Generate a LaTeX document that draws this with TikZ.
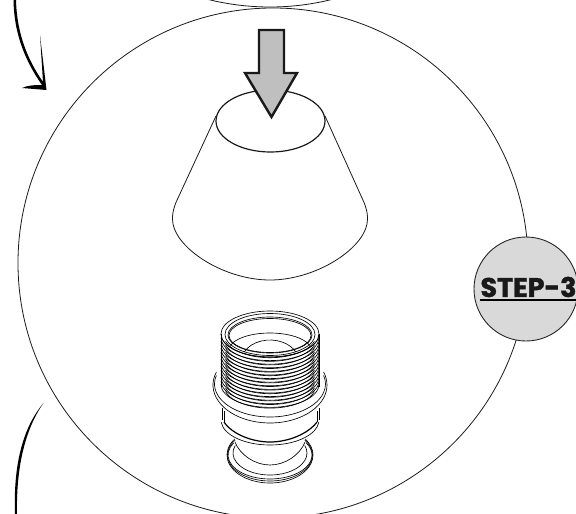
\documentclass[tikz,border=0pt]{standalone}
\usepackage{fontspec}
\setmainfont{Poppins}
\newfontfamily\stepfont[FakeBold=1.4]{Poppins Bold}
\newcommand{\ringarc}[5]{\draw[ring] ([shift={(270,#1)}]#4:#2 and #3) arc[start angle=#4,end angle=#5,x radius=#2,y radius=#3];}
\tikzset{
  outline/.style={draw=black!90,line width=0.8pt},
  ring/.style={draw=black,line width=0.65pt},
  heavy/.style={draw=black,line width=1.2pt},
  pushdown/.style={draw=black!90,line width=2.4pt,fill=black!25,miter limit=8},
  stepdisc/.style={circle,draw=black!85,line width=0.9pt,fill=black!15,minimum size=104pt,inner sep=0pt},
  steptext/.style={font=\stepfont\fontsize{27}{27}\selectfont,text=black!90,inner sep=0pt},
}
\begin{document}
\begin{tikzpicture}[x=1pt,y=-1pt]
    \useasboundingbox (0,0) rectangle (576,514);
    \clip (0,0) rectangle (576,514);
    %% Circles
    \draw[outline] (270,-248) circle (255);
    \draw[outline] (273,263) circle (255);
    %% Curved arrows
    \fill[black] (16,0) .. controls (17,35) and (28,60) .. (43,82)
        -- (40,35) -- (46.5,90) -- (22,88) .. controls (28,85) and (36,85) .. (42,85)
        .. controls (26,62) and (14,35) .. (13.5,0) -- cycle;
    \fill[black] (43.5,403) .. controls (25,425) and (13,460) .. (15,514)
        -- (17,514) .. controls (16,465) and (26,428) .. (43.5,403) -- cycle;
    %% Cone
    \draw[outline] (216,116) -- (178,198) .. controls (172,210) and (172,218) .. (173,224)
        .. controls (178,250) and (225,280) .. (270,280)
        .. controls (315,280) and (362,250) .. (367,224)
        .. controls (368,218) and (368,210) .. (362,198) -- (325,116);
    \draw[heavy,draw=black!90] (270.5,121) ellipse (54.5 and 31);
    %% Push arrow
    \draw[pushdown] (259,30) -- (284,30) -- (284,73) -- (297,73) -- (271.5,117)
        -- (245,73) -- (259,73) -- cycle;
    %% Fitting top
    \draw[ring] (270,334) ellipse (49 and 23);
    \draw[ring] (270,334.5) ellipse (45 and 21);
    \draw[ring] (270,335) ellipse (42 and 18);
    \ringarc{350}{41}{17}{195}{345}
    \ringarc{362}{29}{22}{207}{333}
    \draw[ring] (270,335.5) ellipse (41 and 17);
    %% Thread
    \foreach \dy in {0,3.6,...,53} {
        \ringarc{334+\dy}{49}{23}{180}{0}
        \ringarc{334+\dy+1.5}{46}{22.2}{165}{15}
    }
    \draw[ring] (221,334) -- (221,387);
    \draw[ring] (319,334) -- (319,387);
    %% Flange
    \ringarc{385}{57}{38}{200}{-20}
    \ringarc{384}{55.5}{33}{195}{-15}
    \draw[ring] (222,408) -- (222,420);
    \draw[ring] (224,411) -- (224,422);
    \draw[ring] (319,408) -- (319,420);
    \draw[ring] (317,411) -- (317,422);
    %% Neck
    \ringarc{420}{49}{25}{175}{5}
    \draw[heavy] (224,422) .. controls (232,434) and (252,442) .. (270,442)
        .. controls (288,442) and (308,434) .. (317,422);
    %% Bowl and base
    \draw[ring] (235,442) .. controls (240,455) and (255,465) .. (270,465)
        .. controls (285,465) and (300,455) .. (305,442);
    \ringarc{455}{43}{28}{215}{-35}
    \ringarc{455}{42.5}{26}{215}{-35}
    \ringarc{455}{42}{24}{210}{-30}
    \ringarc{453}{37}{22}{200}{-20}
    %% Step badge
    \node[stepdisc] (disc) at (526,289) {};
    \node[steptext] (steplabel) at (528.5,287) {STEP-3};
    \draw[draw=black,line width=1.8pt] ([yshift=-2.5pt]steplabel.south west) -- ([yshift=-2.5pt]steplabel.south east);
\end{tikzpicture}
\end{document}
